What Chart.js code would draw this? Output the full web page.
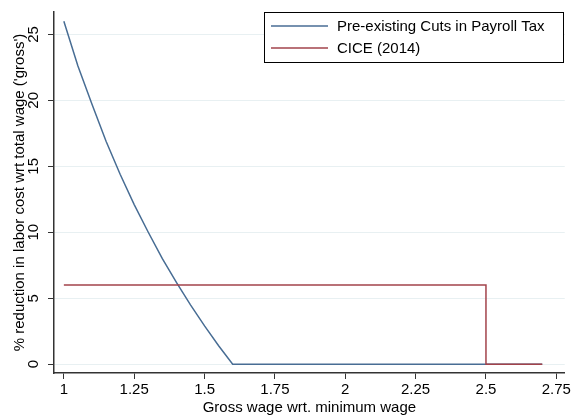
<!DOCTYPE html>
<html>
<head>
<meta charset="utf-8">
<script src="https://cdn.jsdelivr.net/npm/chart.js@4.4.0/dist/chart.umd.min.js"></script>
<style>
  body { margin: 0; background: #fff; }
</style>
</head>
<body>
<canvas id="cutsChart" width="573" height="417"></canvas>
<script>
// Values
const wagePayroll = [1, 1.05, 1.1, 1.15, 1.2, 1.25, 1.3, 1.35, 1.4, 1.45, 1.5, 1.55, 1.6, 2.7];
const cutPayroll = [26.0, 22.6, 19.7, 16.9, 14.4, 12.1, 10.0, 8.0, 6.2, 4.5, 2.9, 1.4, 0, 0];
const wageCice = [1, 2.5, 2.5, 2.7];
const cutCice = [6, 6, 0, 0];
const xTicks = [1, 1.25, 1.5, 1.75, 2, 2.25, 2.5, 2.75];
const yTicks = [0, 5, 10, 15, 20, 25];
const seriesNames = ['Pre-existing Cuts in Payroll Tax', 'CICE (2014)'];
const seriesColors = ['#486d94', '#a2434b'];

const toPoints = (xs, ys) => xs.map((x, i) => ({ x: x, y: ys[i] }));
const font = 'Liberation Sans, Arial, sans-serif';

// y tick labels are drawn rotated, plus the boxed legend inside the plot
const stataBits = {
  id: 'stataBits',
  afterDraw(chart) {
    const ctx = chart.ctx;
    const y = chart.scales.y;
    ctx.save();
    ctx.fillStyle = '#000';
    ctx.font = '15px ' + font;
    ctx.textAlign = 'center';
    ctx.textBaseline = 'middle';
    yTicks.forEach(v => {
      ctx.save();
      ctx.translate(34, y.getPixelForValue(v));
      ctx.rotate(-Math.PI / 2);
      ctx.fillText(String(v), 0, 0);
      ctx.restore();
    });

    // legend
    ctx.fillStyle = '#fff';
    ctx.fillRect(264, 12, 299, 50);
    ctx.strokeStyle = '#000';
    ctx.lineWidth = 1;
    ctx.strokeRect(264.5, 12.5, 299, 50);
    ctx.textAlign = 'left';
    seriesNames.forEach((name, i) => {
      const ly = 26 + i * 22;
      ctx.strokeStyle = seriesColors[i];
      ctx.lineWidth = 1.5;
      ctx.beginPath();
      ctx.moveTo(271, ly);
      ctx.lineTo(328, ly);
      ctx.stroke();
      ctx.fillStyle = '#000';
      ctx.fillText(name, 337, ly + 1);
    });
    ctx.restore();
  }
};

new Chart(document.getElementById('cutsChart'), {
  type: 'line',
  data: {
    datasets: [{
      label: seriesNames[0],
      data: toPoints(wagePayroll, cutPayroll),
      borderColor: seriesColors[0],
      borderWidth: 1.5,
      pointRadius: 0,
      tension: 0,
      order: 1
    }, {
      label: seriesNames[1],
      data: toPoints(wageCice, cutCice),
      borderColor: seriesColors[1],
      borderWidth: 1.5,
      pointRadius: 0,
      tension: 0,
      order: 0
    }]
  },
  options: {
    responsive: false,
    animation: false,
    layout: { padding: { left: 0, right: 5, top: 7, bottom: 0 } },
    plugins: { legend: { display: false }, tooltip: { enabled: false } },
    scales: {
      x: {
        type: 'linear',
        min: 0.965,
        max: 2.78,
        afterBuildTicks: scale => { scale.ticks = xTicks.map(v => ({ value: v })); },
        afterFit: scale => { scale.height = 44; },
        border: { color: '#333', width: 1.5 },
        grid: { drawOnChartArea: false, drawTicks: true, tickLength: 6, tickColor: '#333' },
        ticks: { color: '#000', font: { family: font, size: 15 }, padding: 2, maxRotation: 0, autoSkip: false, callback: v => String(v) },
        title: { display: true, text: 'Gross wage wrt. minimum wage', color: '#000', font: { family: font, size: 15 }, padding: { top: 0, bottom: 0 } }
      },
      y: {
        type: 'linear',
        min: -0.67,
        max: 26.7,
        afterBuildTicks: scale => { scale.ticks = yTicks.map(v => ({ value: v })); },
        afterFit: scale => { scale.width = 54; },
        border: { color: '#333', width: 1.5 },
        grid: { color: '#e8f0f2', lineWidth: 1, drawTicks: true, tickLength: 6, tickColor: '#333' },
        ticks: { color: 'rgba(0,0,0,0)', font: { family: font, size: 15 } },
        title: { display: true, text: "% reduction in labor cost wrt total wage ('gross')", color: '#000', font: { family: font, size: 15 }, padding: { top: 11, bottom: 0 } }
      }
    }
  },
  plugins: [stataBits]
});
</script>
</body>
</html>
